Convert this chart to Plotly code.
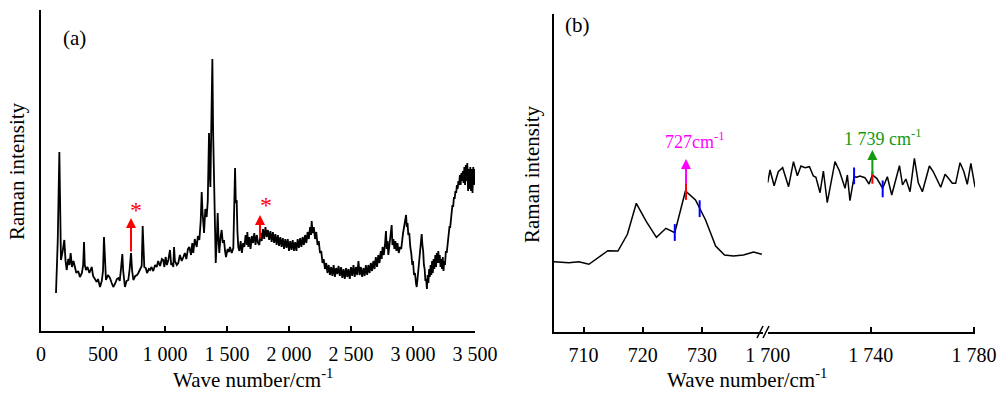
import plotly.graph_objects as go

# ---------------- Panel (a): full Raman spectrum ----------------
wave_a = [121, 135, 148, 155, 161, 175, 188, 198, 207, 220, 230, 239, 250, 262, 274, 285, 300, 314, 330, 340,
          347, 353, 363, 375, 390, 409, 420, 435, 449, 460, 476, 490, 500, 508, 515, 524, 540, 556, 570, 583,
          600, 612, 624, 635, 645, 656, 663, 677, 690, 704, 715, 726, 735, 745, 760, 775, 785, 800, 812, 820,
          826, 833, 845, 855, 870, 879, 890, 905, 920, 933, 945, 960, 975, 986, 995, 1005, 1015, 1027, 1040, 1050,
          1060, 1067, 1073, 1080, 1095, 1107, 1120, 1135, 1148, 1160, 1172, 1185, 1196, 1210, 1220, 1228, 1240, 1256, 1265, 1277,
          1288, 1296, 1302, 1315, 1325, 1336, 1345, 1355, 1360, 1366, 1374, 1382, 1388, 1395, 1403, 1409, 1418, 1425, 1432, 1438,
          1448, 1457, 1466, 1476, 1484, 1492, 1505, 1515, 1524, 1538, 1551, 1558, 1565, 1571, 1578, 1584, 1591,
          1600, 1610, 1620, 1630, 1640, 1650, 1660, 1664, 1672, 1680, 1690, 1700, 1710, 1720, 1730, 1740, 1750, 1761, 1770, 1780,
          1790, 1800, 1810, 1820, 1830, 1840, 1850, 1860, 1870, 1880, 1890, 1900, 1910, 1920, 1930, 1940, 1950, 1960, 1970, 1980,
          1990, 2000, 2010, 2020, 2030, 2040, 2050, 2060, 2070, 2080, 2090, 2100, 2110, 2120, 2130, 2140, 2150, 2160, 2170, 2178,
          2183, 2190, 2200, 2210, 2220, 2230, 2240, 2250, 2260, 2270, 2280, 2290,
          2300, 2310, 2320, 2330, 2340, 2350, 2360, 2370, 2380, 2390, 2400, 2410, 2420, 2430, 2440, 2450, 2460, 2470, 2480, 2490,
          2500, 2510, 2520, 2530, 2540, 2550, 2560, 2570, 2580, 2590, 2600, 2610, 2620, 2630, 2640, 2650, 2660, 2670, 2680, 2690,
          2700, 2710, 2720, 2730, 2740, 2747, 2755, 2765, 2775, 2782, 2788, 2795, 2801, 2810, 2820, 2828, 2834, 2842, 2850, 2858,
          2866, 2875, 2885, 2895, 2905, 2912, 2920, 2928, 2936, 2944, 2950, 2956, 2962, 2970, 2978, 2986, 2994, 3000, 3008, 3016,
          3024, 3030, 3038, 3045, 3051, 3058, 3064, 3070, 3076, 3082, 3088, 3094, 3100, 3106, 3112, 3118, 3124, 3130, 3136, 3142,
          3148, 3154, 3160, 3166, 3172, 3180, 3186, 3192, 3198, 3204, 3210, 3216, 3222, 3228, 3234, 3240, 3246, 3252, 3258, 3265,
          3272, 3280, 3287, 3294, 3300, 3306, 3312, 3318, 3324, 3330, 3336, 3342, 3348, 3354, 3360, 3366, 3372, 3378, 3384, 3390,
          3396, 3402, 3408, 3414, 3420, 3426, 3432, 3438, 3444, 3450, 3456, 3462, 3468, 3474, 3480, 3486, 3492, 3497]
int_a = [38, 90, 179, 110, 71, 80, 91, 70, 61, 72, 66, 78, 64, 70, 64, 58, 60, 54, 58, 66,
         89, 66, 61, 64, 58, 64, 55, 52, 49, 52, 44, 50, 60, 94, 70, 51, 56, 53, 48, 44,
         48, 52, 53, 50, 62, 77, 60, 44, 50, 51, 62, 78, 60, 51, 55, 56, 58, 62, 65, 105,
         75, 64, 63, 58, 62, 61, 64, 60, 66, 64, 70, 65, 72, 71, 64, 74, 66, 71, 81, 66,
         68, 64, 84, 70, 66, 68, 76, 70, 74, 78, 72, 82, 84, 76, 88, 78, 92, 84, 95, 91,
         110, 139, 120, 98, 122, 114, 130, 198, 160, 144, 210, 272, 200, 164, 110, 68, 92, 118, 90, 78,
         94, 101, 88, 91, 80, 74, 82, 79, 84, 78, 83, 120, 163, 128, 131, 100, 84,
         80, 90, 78, 88, 84, 96, 86, 99, 84, 94, 82, 95, 88, 98, 86, 96, 88, 86, 98, 90,
         102, 92, 104, 94, 101, 91, 100, 89, 99, 88, 97, 86, 96, 85, 94, 84, 93, 82, 92, 83,
         92, 80, 90, 81, 91, 80, 89, 80, 92, 83, 93, 84, 94, 86, 96, 88, 99, 92, 104, 96,
         110, 98, 104, 92, 99, 86, 90, 78, 80, 68, 72, 62,
         68, 58, 66, 56, 64, 55, 66, 54, 63, 57, 65, 55, 64, 53, 62, 52, 63, 54, 62, 52,
         64, 55, 66, 54, 64, 56, 70, 56, 64, 54, 63, 55, 66, 56, 66, 58, 68, 60, 70, 62,
         74, 64, 76, 68, 80, 72, 84, 76, 88, 100, 82, 90, 76, 86, 94, 106, 86, 92, 82, 90,
         80, 88, 78, 84, 82, 94, 98, 104, 110, 116, 104, 108, 96, 98, 84, 78, 66, 70, 56, 58,
         48, 44, 54, 62, 74, 82, 90, 97, 86, 80, 66, 62, 50, 52, 42, 56, 48, 62, 54, 66,
         56, 70, 58, 72, 62, 76, 64, 78, 68, 80, 68, 76, 64, 72, 62, 74, 60, 70, 66, 80,
         78, 90, 92, 104, 104, 114, 114, 126, 124, 134, 132, 140, 138, 146, 142, 150, 146, 156, 146, 158,
         150, 160, 148, 164, 146, 166, 150, 168, 140, 162, 142, 164, 140, 162, 138, 164, 146, 162]

ticks_a = [0, 500, 1000, 1500, 2000, 2500, 3000, 3500]
ticktext_a = ["0", "500", "1 000", "1 500", "2 000", "2 500", "3 000", "3 500"]

# red arrows (position, tail, head) and asterisks
arrow_a_x = [726, 1766]
arrow_a_tail = [78, 91]
arrow_a_head = [113, 116]
star_a_x = [768, 1815]
star_a_y = [121, 126]

# ---------------- Panel (b): zoomed regions ----------------
wave_b1 = [705.0, 707.5, 709.2, 710.9, 714.1, 715.8, 717.4, 718.9, 720.6, 722.3, 723.9,
           725.4, 727.2, 728.9, 730.6, 732.3, 733.8, 735.3, 737.0, 738.7, 740.1]
int_b1 = [70.3, 69.3, 70.3, 67.7, 81.3, 81, 97.7, 128.7, 110.3, 94.7, 103.7,
          99.3, 141, 132, 112, 86, 77, 76, 77, 80, 77.7]

wave_b2 = [1700.0, 1700.9, 1702.5, 1704.1, 1705.8, 1708.1, 1710.0, 1711.5, 1712.9, 1714.5, 1716.2,
           1717.7, 1718.7, 1720.3, 1721.6, 1723.1, 1726.1, 1727.8, 1730.0, 1730.9, 1731.9,
           1733.5, 1734.5, 1735.8, 1737.7, 1739.3, 1740.6, 1742.3, 1744.6, 1746.4, 1748.1,
           1751.1, 1752.3, 1753.6, 1755.2, 1756.9, 1758.4, 1760.0, 1762.7, 1764.2, 1767.1,
           1768.8, 1770.1, 1771.6, 1772.9, 1774.6, 1776.1, 1777.4, 1778.8, 1780.4, 1781.9]
int_b2 = [149.3, 162, 146.3, 160.3, 164.3, 145.3, 170.3, 156.3, 166, 164.3, 165.3,
          156, 154.7, 139.3, 161, 129.3, 170.3, 161.3, 143.7, 157, 131.3,
          155.3, 154.7, 156, 154.3, 148, 157, 153.7, 143.7, 155.3, 137,
          166.3, 147, 153, 140.3, 173.7, 149.3, 140.3, 166, 160.3, 144.7,
          157.7, 153.7, 148.7, 148.7, 169.3, 160.3, 147.7, 168.7, 145.3, 144.3]

ticks_b1 = [710, 720, 730]
ticktext_b1 = ["710", "720", "730"]
ticks_b2 = [1700, 1740, 1780]
ticktext_b2 = ["1 700", "1 740", "1 780"]

# interval markers (blue) and peak markers (red)
blue_b1_x = [725.4, 729.6]
blue_b1_y = [99.5, 123.3]
red_b1_x = [727.3]
red_b1_y = [140.5]
blue_b2_x = [1733.5, 1744.6]
blue_b2_y = [156.2, 143.2]
red_b2_x = [1740.6]
red_b2_y = [154.5]

peak1 = dict(x=727.3, tail=147, head=173, label="727cm<sup>-1</sup>", lx=728.8, ly=192)
peak2 = dict(x=1740.6, tail=156, head=182, label="1 739 cm<sup>-1</sup>", lx=1744.6, ly=195)

FONT = "Liberation Serif"
W, H = 1000, 397


def px(v):
    return v / W


def py(v):
    return 1 - v / H


fig = go.Figure()

fig.add_trace(go.Scatter(x=wave_a, y=int_a, mode="lines", line=dict(color="black", width=1.8),
                         xaxis="x", yaxis="y", showlegend=False, hoverinfo="skip"))
fig.add_trace(go.Scatter(x=wave_b1, y=int_b1, mode="lines", line=dict(color="black", width=1.5),
                         xaxis="x2", yaxis="y2", showlegend=False))
fig.add_trace(go.Scatter(x=wave_b2, y=int_b2, mode="lines", line=dict(color="black", width=1.5),
                         xaxis="x3", yaxis="y2", showlegend=False))

mk = dict(symbol="line-ns", size=12, line=dict(width=2))
fig.add_trace(go.Scatter(x=blue_b1_x, y=blue_b1_y, mode="markers", xaxis="x2", yaxis="y2",
                         marker=dict(mk, line=dict(width=2, color="#0000ff")), showlegend=False))
fig.add_trace(go.Scatter(x=red_b1_x, y=red_b1_y, mode="markers", xaxis="x2", yaxis="y2",
                         marker=dict(mk, line=dict(width=2, color="#ff0000")), showlegend=False))
fig.add_trace(go.Scatter(x=blue_b2_x, y=blue_b2_y, mode="markers", xaxis="x3", yaxis="y2",
                         marker=dict(mk, line=dict(width=2, color="#0000ff")), showlegend=False))
fig.add_trace(go.Scatter(x=red_b2_x, y=red_b2_y, mode="markers", xaxis="x3", yaxis="y2",
                         marker=dict(mk, size=9, line=dict(width=2, color="#ff0000")), showlegend=False))

axis_common = dict(showgrid=False, zeroline=False, showline=True, linecolor="black", linewidth=1.5,
                   automargin=False, tickfont=dict(family=FONT, size=20, color="black"))
xcommon = dict(axis_common, ticks="inside", ticklen=5, tickwidth=1.5, tickcolor="black",
               ticklabelstandoff=4)
ycommon = dict(axis_common, ticks="", showticklabels=False)

fig.update_layout(
    template="none",
    width=W, height=H, margin=dict(l=0, r=0, t=0, b=0, autoexpand=False),
    paper_bgcolor="white", plot_bgcolor="white",
    font=dict(family=FONT, color="black"),
    xaxis=dict(xcommon, domain=[px(41), px(475)], range=[0, 3500], tickvals=ticks_a, ticktext=ticktext_a,
               anchor="y"),
    yaxis=dict(ycommon, domain=[py(331), py(10)], range=[0, 321], anchor="x"),
    xaxis2=dict(xcommon, domain=[px(554), px(763)], range=[705, 740.3], tickvals=ticks_b1,
                ticktext=ticktext_b1, anchor="y2"),
    xaxis3=dict(xcommon, domain=[px(767.7), px(975)], range=[1700, 1780.4], tickvals=ticks_b2,
                ticktext=ticktext_b2, anchor="y2"),
    yaxis2=dict(ycommon, domain=[py(332), py(14)], range=[0, 318], anchor="x2"),
    showlegend=False,
)

C = dict(xanchor="center", yanchor="middle")
ann = []
# panel (a) arrows and stars
for xa, t, h in zip(arrow_a_x, arrow_a_tail, arrow_a_head):
    ann.append(dict(x=xa, y=h, ax=xa, ay=t, xref="x", yref="y", axref="x", ayref="y", text="",
                    showarrow=True, arrowhead=2, arrowsize=1, arrowwidth=2, arrowcolor="#ff0000", standoff=0))
for sx, sy in zip(star_a_x, star_a_y):
    ann.append(dict(C, x=sx, y=sy, xref="x", yref="y", text="*", showarrow=False,
                    font=dict(family=FONT, size=24, color="#ff0000")))

# panel (b) arrows and labels
ann.append(dict(x=peak1["x"], y=peak1["head"], ax=peak1["x"], ay=peak1["tail"], xref="x2", yref="y2",
                axref="x2", ayref="y2", text="", showarrow=True, arrowhead=2, arrowsize=1, arrowwidth=2,
                arrowcolor="#ff00ff", standoff=0))
ann.append(dict(C, x=peak1["lx"], y=peak1["ly"], xref="x2", yref="y2", text=peak1["label"], showarrow=False,
                font=dict(family=FONT, size=18, color="#ff00ff")))
ann.append(dict(x=peak2["x"], y=peak2["head"], ax=peak2["x"], ay=peak2["tail"], xref="x3", yref="y2",
                axref="x3", ayref="y2", text="", showarrow=True, arrowhead=2, arrowsize=1, arrowwidth=2,
                arrowcolor="#129a12", standoff=0))
ann.append(dict(C, x=peak2["lx"], y=peak2["ly"], xref="x3", yref="y2", text=peak2["label"], showarrow=False,
                font=dict(family=FONT, size=18, color="#129a12")))

# panel labels and axis titles
tfont = dict(family=FONT, size=21, color="black")
ann.append(dict(C, x=px(74), y=py(38), xref="paper", yref="paper", text="(a)", showarrow=False, font=tfont))
ann.append(dict(C, x=px(577), y=py(25), xref="paper", yref="paper", text="(b)", showarrow=False, font=tfont))
ann.append(dict(C, x=px(253), y=py(378), xref="paper", yref="paper", text="Wave number/cm<sup>-1</sup>",
                showarrow=False, font=tfont))
ann.append(dict(C, x=px(747), y=py(378), xref="paper", yref="paper", text="Wave number/cm<sup>-1</sup>",
                showarrow=False, font=tfont))
ann.append(dict(C, x=px(17), y=py(171), xref="paper", yref="paper", text="Raman intensity", textangle=-90,
                showarrow=False, font=tfont))
ann.append(dict(C, x=px(532), y=py(174), xref="paper", yref="paper", text="Raman intensity", textangle=-90,
                showarrow=False, font=tfont))
fig.update_layout(annotations=ann)

# axis break marks "//"
for x0 in [757, 763]:
    fig.add_shape(type="line", xref="paper", yref="paper", x0=px(x0), y0=py(338), x1=px(x0 + 6), y1=py(326),
                  line=dict(color="black", width=1.5))

fig.write_html("out.html", config={"displayModeBar": False},
               post_script="document.body.style.margin='0';document.body.style.padding='0';")
